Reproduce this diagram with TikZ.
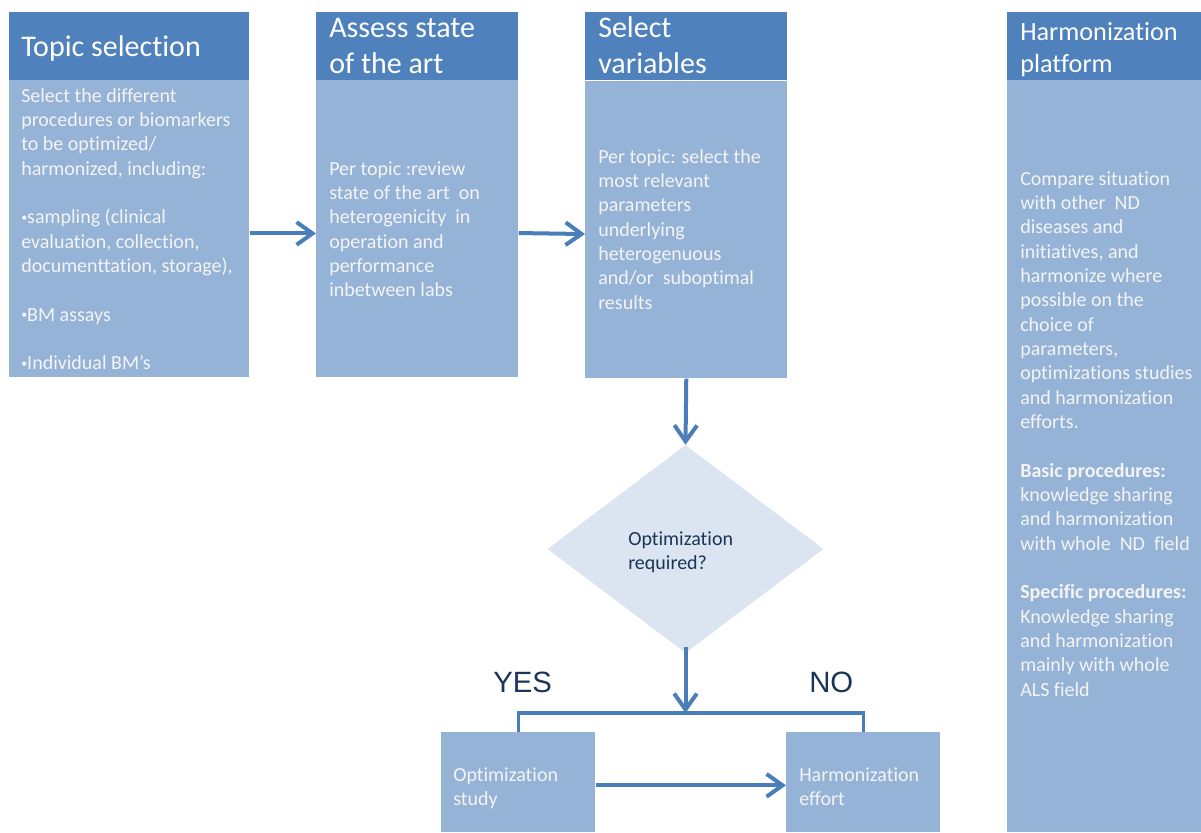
\documentclass[tikz,border=0pt]{standalone}
\usepackage{fontspec}
\setmainfont{Carlito}[Ligatures=NoCommon]
\newfontfamily\arialf{Liberation Sans}
\usetikzlibrary{shapes.geometric,arrows.meta,calc}
\definecolor{hdrc}{HTML}{4F81BD}
\definecolor{bodyc}{HTML}{95B3D7}
\definecolor{diac}{HTML}{DBE5F1}
\definecolor{arrc}{HTML}{4A7EBB}
\definecolor{ltxt}{HTML}{F4F4F4}
\definecolor{dtxt}{HTML}{1B3556}
\tikzset{
  hdr/.style={fill=hdrc, draw=none, anchor=north west, inner sep=0pt, minimum height=51pt},
  bodybox/.style={fill=bodyc, draw=none, anchor=north west, inner sep=0pt},
  headtxt/.style={anchor=base west, inner sep=0pt, text=white, font={\fontsize{22.5pt}{27.5pt}\selectfont}},
  headtxtsmall/.style={anchor=base west, inner sep=0pt, text=white, font={\fontsize{19.7pt}{24pt}\selectfont}},
  bodytxt/.style={anchor=base west, inner sep=0pt, text=ltxt, font={\fontsize{15pt}{18.25pt}\selectfont}},
  diatxt/.style={anchor=base west, inner sep=0pt, text=dtxt, font={\fontsize{15pt}{18.25pt}\selectfont}},
  yesno/.style={anchor=base west, inner sep=0pt, text=dtxt, font={\arialf\fontsize{22pt}{26pt}\selectfont}},
  arr/.style={draw=arrc, line width=3pt, -{Straight Barb[length=12pt,width=17pt]}},
  bracket/.style={draw=arrc, line width=2.6pt}
}
\newcommand{\pb}[2]{\parbox[t]{#1}{\raggedright #2}}
\newcommand{\bul}{\raisebox{0.12em}{\scalebox{0.6}{\textbullet}}}
\begin{document}
\begin{tikzpicture}[x=0.75pt,y=-0.75pt]
\useasboundingbox (0,0) rectangle (1201,832);
% Topic selection
\node[hdr, minimum width=180pt] (h1) at (9,12) {};
\node[bodybox, minimum width=180pt, minimum height=222.75pt] (b1) at (9,80) {};
\node[headtxt] (th1) at (21,56) {Topic selection};
\node[bodytxt] (tb1) at (21,102) {\pb{175pt}{Select the different\\procedures or biomarkers\\to be optimized/\\harmonized, including:\\[18.25pt]\bul sampling (clinical\\evaluation, collection,\\documenttation, storage),\\[18.25pt]\bul BM assays\\[18.25pt]\bul Individual BM’s}};
% Assess state of the art
\node[hdr, minimum width=151.5pt] (h2) at (316,12) {};
\node[bodybox, minimum width=151.5pt, minimum height=222.75pt] (b2) at (316,80) {};
\node[headtxt] (th2) at (329,37) {\pb{145pt}{Assess state\\of the art}};
\node[bodytxt] (tb2) at (329,175) {\pb{145pt}{Per topic :review\\state of the art\ \ on\\heterogenicity\ \ in\\operation and\\performance\\inbetween labs}};
% Select variables
\node[hdr, minimum width=151.5pt] (h3) at (585,12) {};
\node[bodybox, minimum width=151.5pt, minimum height=222.75pt] (b3) at (585,81) {};
\node[headtxt] (th3) at (598,37) {\pb{145pt}{Select\\variables}};
\node[bodytxt] (tb3) at (598,163) {\pb{145pt}{Per topic: select the\\most relevant\\parameters\\underlying\\heterogenuous\\and/or\ \ suboptimal\\results}};
% Harmonization platform
\node[hdr, minimum width=145.5pt] (h4) at (1007,12) {};
\node[bodybox, minimum width=145.5pt, minimum height=564pt] (b4) at (1007,80) {};
\node[headtxtsmall] (th4) at (1020,40) {\pb{140pt}{Harmonization\\platform}};
\node[bodytxt] (tb4) at (1020,185) {\pb{140pt}{Compare situation\\with other\ \ ND\\diseases and\\initiatives, and\\harmonize where\\possible on the\\choice of\\parameters,\\optimizations studies\\and harmonization\\efforts.\\[18.25pt]\textbf{Basic procedures:}\\knowledge sharing\\and harmonization\\with whole\ \ ND\ \ field\\[18.25pt]\textbf{Specific procedures:}\\Knowledge sharing\\and harmonization\\mainly with whole\\ALS field}};
% Decision
\node[diamond, fill=diac, draw=none, inner sep=0pt, minimum width=207pt, minimum height=156pt] (d) at (685.5,549) {};
\node[diatxt] (td) at (628,545) {\pb{100pt}{Optimization\\required?}};
% Bottom boxes
\node[bodybox, minimum width=115.5pt, minimum height=75pt] (os) at (441,732) {};
\node[bodybox, minimum width=115.5pt, minimum height=75pt] (he) at (786,732) {};
\node[bodytxt] (tos) at (453,781) {\pb{110pt}{Optimization\\study}};
\node[bodytxt] (the) at (799,781) {\pb{110pt}{Harmonization\\effort}};
% Labels
\node[yesno] (yes) at (493,692) {YES};
\node[yesno] (no) at (809,692) {NO};
% Connectors
\coordinate (split) at ($(os.north)+(0,-19)$);
\draw[arr] ([yshift=-3.5pt]b1.east) -- ([yshift=-3.5pt]b2.west);
\draw[arr] ([yshift=-3.2pt]b2.east) -- ([yshift=-3.2pt]b3.west);
\draw[arr] (b3.south) -- (d.north);
\draw[arr] ([yshift=5pt]d.south) -- (d.south |- split);
\draw[bracket] (os.north) |- (split) -| (he.north);
\draw[arr] ([yshift=-2.3pt]os.east) -- ([yshift=-2.3pt]he.west);
\end{tikzpicture}
\end{document}
